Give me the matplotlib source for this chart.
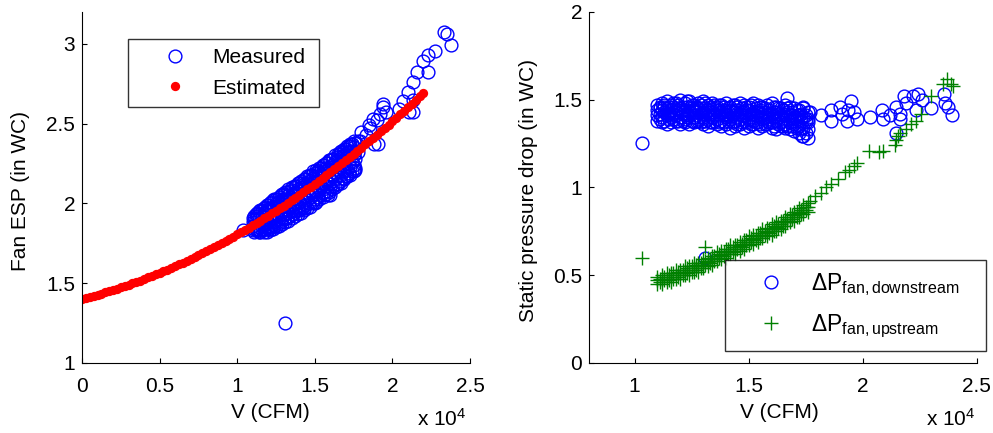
import numpy as np
import matplotlib
matplotlib.use('Agg')
from matplotlib import pyplot as plt

# --- data, V in units of 10^4 CFM ---
# estimated fan ESP curve (red dots)
est_v = [0.000, 0.025, 0.050, 0.075, 0.100, 0.125, 0.150, 0.175, 0.200, 0.225,
         0.250, 0.275, 0.300, 0.325, 0.350, 0.375, 0.400, 0.425, 0.450, 0.475,
         0.500, 0.525, 0.550, 0.575, 0.600, 0.625, 0.650, 0.675, 0.700, 0.725,
         0.750, 0.775, 0.800, 0.825, 0.850, 0.875, 0.900, 0.925, 0.950, 0.975,
         1.000, 1.025, 1.050, 1.075, 1.100, 1.125, 1.150, 1.175, 1.200, 1.225,
         1.250, 1.275, 1.300, 1.325, 1.350, 1.375, 1.400, 1.425, 1.450, 1.475,
         1.500, 1.525, 1.550, 1.575, 1.600, 1.625, 1.650, 1.675, 1.700, 1.725,
         1.750, 1.775, 1.800, 1.825, 1.850, 1.875, 1.900, 1.925, 1.950, 1.975,
         2.000, 2.025, 2.050, 2.075, 2.100, 2.125, 2.150, 2.175, 2.200]
est_esp = [1.400, 1.406, 1.413, 1.420, 1.427, 1.434, 1.441, 1.449, 1.457, 1.465,
           1.473, 1.481, 1.489, 1.498, 1.507, 1.516, 1.525, 1.535, 1.545, 1.554,
           1.564, 1.575, 1.585, 1.596, 1.606, 1.617, 1.629, 1.640, 1.651, 1.663,
           1.675, 1.687, 1.700, 1.712, 1.725, 1.738, 1.751, 1.764, 1.778, 1.791,
           1.805, 1.819, 1.833, 1.848, 1.862, 1.877, 1.892, 1.907, 1.923, 1.938,
           1.954, 1.970, 1.986, 2.002, 2.019, 2.036, 2.052, 2.070, 2.087, 2.104,
           2.122, 2.140, 2.158, 2.176, 2.194, 2.213, 2.232, 2.251, 2.270, 2.289,
           2.309, 2.329, 2.349, 2.369, 2.389, 2.410, 2.430, 2.451, 2.472, 2.494,
           2.515, 2.537, 2.559, 2.581, 2.603, 2.625, 2.648, 2.671, 2.694]

# dense cluster of measurements, two interleaved sets of V positions
cluster_v = [1.10, 1.12, 1.14, 1.16, 1.18, 1.20, 1.22, 1.24, 1.26, 1.28,
             1.30, 1.32, 1.34, 1.36, 1.38, 1.40, 1.42, 1.44, 1.46, 1.48,
             1.50, 1.52, 1.54, 1.56, 1.58, 1.60, 1.62, 1.64, 1.66, 1.68,
             1.70, 1.72, 1.74, 1.76]
cluster_v2 = [1.11, 1.13, 1.15, 1.17, 1.19, 1.21, 1.23, 1.25, 1.27, 1.29,
              1.31, 1.33, 1.35, 1.37, 1.39, 1.41, 1.43, 1.45, 1.47, 1.49,
              1.51, 1.53, 1.55, 1.57, 1.59, 1.61, 1.63, 1.65, 1.67, 1.69,
              1.71, 1.73, 1.75]

# measured fan ESP - dense part
esp_a = [1.91, 1.93, 1.95, 1.96, 1.98, 1.99, 2.01, 2.03, 2.03, 2.05,
         2.06, 2.07, 2.08, 2.10, 2.11, 2.13, 2.13, 2.15, 2.17, 2.18,
         2.19, 2.20, 2.22, 2.24, 2.25, 2.27, 2.28, 2.29, 2.31, 2.32,
         2.34, 2.36, 2.37, 2.38]
esp_b = [1.88, 1.90, 1.91, 1.92, 1.94, 1.95, 1.96, 1.97, 1.99, 2.00,
         2.01, 2.02, 2.04, 2.05, 2.06, 2.08, 2.09, 2.10, 2.12, 2.13,
         2.14, 2.16, 2.17, 2.19, 2.20, 2.21, 2.23, 2.24, 2.26, 2.27,
         2.29, 2.30, 2.32, 2.33]
esp_c = [1.83, 1.84, 1.85, 1.86, 1.87, 1.88, 1.90, 1.91, 1.92, 1.93,
         1.95, 1.96, 1.97, 1.98, 2.00, 2.01, 2.03, 2.04, 2.05, 2.07,
         2.08, 2.10, 2.11, 2.12, 2.14, 2.15, 2.17, 2.18, 2.20, 2.21,
         2.23, 2.25, 2.26, 2.28]
esp_d = [1.86, 1.84, 1.82, 1.83, 1.84, 1.84, 1.85, 1.86, 1.87, 1.88,
         1.90, 1.91, 1.92, 1.93, 1.95, 1.96, 1.97, 1.99, 2.00, 2.01,
         2.03, 2.04, 2.05, 2.07, 2.08, 2.10, 2.11, 2.12, 2.14, 2.16,
         2.17, 2.19, 2.20, 2.22]
esp_e = [1.90, 1.92, 1.93, 1.94, 1.96, 1.97, 1.98, 2.00, 2.01, 2.02,
         2.03, 2.05, 2.06, 2.07, 2.09, 2.10, 2.12, 2.13, 2.14, 2.16,
         2.17, 2.19, 2.20, 2.22, 2.23, 2.24, 2.26, 2.27, 2.29, 2.30,
         2.32, 2.33, 2.35]
esp_f = [1.82, 1.83, 1.83, 1.84, 1.85, 1.86, 1.88, 1.89, 1.90, 1.91,
         1.93, 1.94, 1.95, 1.96, 1.98, 1.99, 2.01, 2.02, 2.04, 2.05,
         2.06, 2.08, 2.09, 2.11, 2.12, 2.14, 2.15, 2.17, 2.18, 2.20,
         2.21, 2.23, 2.24]
esp_g = [1.84, 1.83, 1.82, 1.82, 1.82, 1.83, 1.84, 1.85, 1.86, 1.87,
         1.88, 1.89, 1.91, 1.92, 1.93, 1.94, 1.96, 1.97, 1.98, 2.00,
         2.01, 2.03, 2.04, 2.06, 2.07, 2.09, 2.10, 2.12, 2.13, 2.15,
         2.17, 2.18, 2.20]
esp_h = [1.92, 1.94, 1.96, 1.97, 1.99, 2.00, 2.02, 2.03, 2.04, 2.06,
         2.07, 2.09, 2.10, 2.11, 2.13, 2.14, 2.15, 2.17, 2.18, 2.20,
         2.21, 2.22, 2.24, 2.25, 2.27, 2.28, 2.30, 2.31, 2.33, 2.34,
         2.36, 2.37, 2.39]
# measured fan ESP - scattered points
esp_sparse_v = [1.04, 1.31, 1.43, 1.50, 1.585, 1.60, 1.66, 1.71, 1.73, 1.74,
                1.75, 1.76, 1.78, 1.78, 1.79, 1.80, 1.83, 1.85, 1.855, 1.875,
                1.88, 1.90, 1.91, 1.92, 1.94, 1.94, 1.96, 2.04, 2.07, 2.10,
                2.11, 2.13, 2.135, 2.135, 2.16, 2.20, 2.23, 2.23, 2.275, 2.33,
                2.35, 2.375]
esp_sparse = [1.83, 1.25, 1.97, 2.00, 2.05, 2.05, 2.32, 2.17, 2.36, 2.37,
              2.30, 2.21, 2.39, 2.32, 2.39, 2.45, 2.43, 2.49, 2.47, 2.53,
              2.37, 2.52, 2.37, 2.56, 2.62, 2.605, 2.57, 2.59, 2.64, 2.70,
              2.57, 2.65, 2.76, 2.575, 2.82, 2.89, 2.93, 2.82, 2.956, 3.075,
              3.06, 2.99]

# downstream static pressure drop (blue circles)
down_a = [1.47, 1.48, 1.49, 1.47, 1.48, 1.50, 1.48, 1.49, 1.47, 1.48,
          1.49, 1.47, 1.48, 1.46, 1.47, 1.48, 1.46, 1.47, 1.48, 1.47,
          1.46, 1.48, 1.47, 1.46, 1.47, 1.48, 1.46, 1.45, 1.47, 1.46,
          1.45, 1.44, 1.45, 1.43]
down_b = [1.44, 1.44, 1.45, 1.44, 1.43, 1.45, 1.44, 1.43, 1.44, 1.45,
          1.43, 1.44, 1.43, 1.44, 1.43, 1.42, 1.44, 1.43, 1.42, 1.43,
          1.44, 1.42, 1.43, 1.42, 1.41, 1.42, 1.43, 1.41, 1.42, 1.41,
          1.40, 1.41, 1.40, 1.39]
down_c = [1.41, 1.40, 1.41, 1.40, 1.41, 1.40, 1.39, 1.41, 1.40, 1.39,
          1.40, 1.39, 1.40, 1.39, 1.38, 1.40, 1.39, 1.38, 1.39, 1.38,
          1.39, 1.38, 1.37, 1.39, 1.38, 1.37, 1.38, 1.37, 1.36, 1.37,
          1.36, 1.35, 1.34, 1.33]
down_d = [1.38, 1.37, 1.36, 1.37, 1.38, 1.36, 1.37, 1.36, 1.37, 1.38,
          1.36, 1.35, 1.37, 1.36, 1.35, 1.36, 1.34, 1.35, 1.36, 1.34,
          1.35, 1.36, 1.34, 1.35, 1.36, 1.34, 1.33, 1.35, 1.34, 1.33,
          1.32, 1.31, 1.29, 1.28]
down_e = [1.46, 1.47, 1.46, 1.48, 1.47, 1.46, 1.49, 1.47, 1.46, 1.47,
          1.48, 1.46, 1.47, 1.47, 1.46, 1.45, 1.47, 1.46, 1.45, 1.46,
          1.47, 1.45, 1.46, 1.45, 1.44, 1.46, 1.45, 1.44, 1.45, 1.43,
          1.44, 1.42, 1.41]
down_f = [1.42, 1.43, 1.42, 1.42, 1.44, 1.42, 1.42, 1.44, 1.41, 1.42,
          1.42, 1.41, 1.42, 1.41, 1.42, 1.41, 1.41, 1.40, 1.41, 1.41,
          1.40, 1.41, 1.40, 1.40, 1.39, 1.40, 1.40, 1.39, 1.39, 1.38,
          1.39, 1.38, 1.37]
down_g = [1.39, 1.38, 1.39, 1.39, 1.38, 1.38, 1.40, 1.38, 1.38, 1.37,
          1.38, 1.37, 1.38, 1.37, 1.37, 1.38, 1.37, 1.36, 1.37, 1.37,
          1.36, 1.37, 1.36, 1.36, 1.37, 1.35, 1.36, 1.35, 1.35, 1.35,
          1.34, 1.33, 1.31]
down_h = [1.45, 1.46, 1.43, 1.46, 1.45, 1.44, 1.46, 1.45, 1.43, 1.45,
          1.45, 1.43, 1.45, 1.44, 1.44, 1.43, 1.43, 1.44, 1.43, 1.44,
          1.42, 1.43, 1.44, 1.43, 1.42, 1.43, 1.42, 1.42, 1.43, 1.41,
          1.41, 1.40, 1.39]
down_sparse_v = [1.034, 1.31, 1.67, 1.735, 1.74, 1.76, 1.77, 1.815, 1.86, 1.86,
                 1.90, 1.91, 1.93, 1.935, 1.95, 1.96, 1.975, 2.03, 2.085, 2.09,
                 2.12, 2.145, 2.145, 2.165, 2.165, 2.18, 2.19, 2.22, 2.235, 2.24,
                 2.26, 2.30, 2.355, 2.36, 2.375, 2.39]
down_sparse = [1.25, 0.60, 1.51, 1.29, 1.46, 1.37, 1.43, 1.41, 1.44, 1.38,
               1.46, 1.42, 1.38, 1.44, 1.49, 1.43, 1.39, 1.40, 1.44, 1.39,
               1.41, 1.46, 1.31, 1.39, 1.42, 1.52, 1.48, 1.52, 1.44, 1.53,
               1.50, 1.45, 1.53, 1.48, 1.46, 1.41]

# upstream static pressure drop (green plus)
up_mid = [0.47, 0.475, 0.48, 0.49, 0.50, 0.51, 0.52, 0.53, 0.54, 0.55,
          0.56, 0.575, 0.59, 0.60, 0.615, 0.63, 0.64, 0.65, 0.665, 0.68,
          0.69, 0.705, 0.72, 0.73, 0.745, 0.76, 0.775, 0.79, 0.805, 0.82,
          0.84, 0.855, 0.87, 0.89]
up_hi = [0.49, 0.50, 0.51, 0.51, 0.53, 0.53, 0.55, 0.55, 0.57, 0.57,
         0.59, 0.60, 0.61, 0.63, 0.64, 0.65, 0.67, 0.67, 0.69, 0.70,
         0.72, 0.73, 0.74, 0.76, 0.77, 0.79, 0.80, 0.81, 0.83, 0.85,
         0.86, 0.88, 0.90, 0.91]
up_lo = [0.45, 0.45, 0.46, 0.46, 0.48, 0.48, 0.50, 0.50, 0.52, 0.52,
         0.54, 0.55, 0.56, 0.58, 0.59, 0.60, 0.62, 0.62, 0.64, 0.65,
         0.67, 0.68, 0.69, 0.71, 0.72, 0.73, 0.75, 0.76, 0.78, 0.80,
         0.81, 0.83, 0.85, 0.86]
up_hi2 = [0.48, 0.49, 0.50, 0.51, 0.52, 0.53, 0.54, 0.55, 0.56, 0.57,
          0.58, 0.59, 0.61, 0.62, 0.63, 0.65, 0.66, 0.67, 0.68, 0.70,
          0.71, 0.72, 0.74, 0.75, 0.76, 0.78, 0.79, 0.81, 0.82, 0.84,
          0.86, 0.87, 0.89]
up_lo2 = [0.46, 0.47, 0.47, 0.48, 0.49, 0.50, 0.51, 0.52, 0.53, 0.54,
          0.56, 0.57, 0.58, 0.60, 0.61, 0.62, 0.63, 0.65, 0.66, 0.67,
          0.69, 0.70, 0.71, 0.73, 0.74, 0.75, 0.77, 0.78, 0.80, 0.82,
          0.83, 0.85, 0.87]
up_sparse_v = [1.034, 1.31, 1.77, 1.79, 1.815, 1.84, 1.86, 1.89, 1.92, 1.94,
               1.96, 1.975, 2.025, 2.07, 2.09, 2.14, 2.145, 2.155, 2.165, 2.19,
               2.21, 2.235, 2.255, 2.30, 2.35, 2.37, 2.385, 2.395]
up_sparse = [0.595, 0.66, 0.925, 0.95, 0.97, 1.00, 1.02, 1.05, 1.09, 1.10,
             1.12, 1.14, 1.21, 1.20, 1.21, 1.24, 1.27, 1.29, 1.31, 1.33,
             1.36, 1.38, 1.42, 1.52, 1.59, 1.62, 1.59, 1.58]

left_xticks = [0, 0.5, 1, 1.5, 2, 2.5]
left_xlabels = ['0', '0.5', '1', '1.5', '2', '2.5']
left_yticks = [1, 1.5, 2, 2.5, 3]
left_ylabels = ['1', '1.5', '2', '2.5', '3']
right_xticks = [1, 1.5, 2, 2.5]
right_xlabels = ['1', '1.5', '2', '2.5']
right_yticks = [0, 0.5, 1, 1.5, 2]
right_ylabels = ['0', '0.5', '1', '1.5', '2']

plt.rcParams['font.family'] = 'Liberation Sans'
plt.rcParams['font.size'] = 15
plt.rcParams['mathtext.fontset'] = 'custom'
plt.rcParams['mathtext.rm'] = 'Liberation Sans'
plt.rcParams['mathtext.it'] = 'Liberation Sans:italic'

fig = plt.figure(figsize=(9.93, 4.33), dpi=100)
ax1 = fig.add_axes([0.0826, 0.162, 0.3907, 0.8106])
ax2 = fig.add_axes([0.5931, 0.162, 0.3907, 0.8106])


def matlab_look(ax):
    # box off, ticks pointing inward like the original
    ax.spines['top'].set_visible(False)
    ax.spines['right'].set_visible(False)
    for s in ['left', 'bottom']:
        ax.spines[s].set_linewidth(0.8)
    ax.tick_params(direction='in', length=3.5, width=0.8, colors='k')
    ax.tick_params(axis='x', pad=10)
    ax.tick_params(axis='y', pad=5)


# left panel: fan ESP
meas_v = np.concatenate([cluster_v] * 4 + [cluster_v2] * 4 + [esp_sparse_v])
meas_esp = np.concatenate([esp_a, esp_b, esp_c, esp_d, esp_e, esp_f, esp_g, esp_h, esp_sparse])
ax1.plot(meas_v, meas_esp, 'o', mfc='none', mec='b', ms=9.2, mew=1.0, label='Measured')
ax1.plot(est_v, est_esp, 'o', color='r', ms=6.7, mew=0, label='Estimated')
ax1.set_xlim(0, 2.5)
ax1.set_ylim(1, 3.2)
ax1.set_xticks(left_xticks)
ax1.set_xticklabels(left_xlabels)
ax1.set_yticks(left_yticks)
ax1.set_yticklabels(left_ylabels)
matlab_look(ax1)
ax1.set_xlabel('V (CFM)')
ax1.xaxis.set_label_coords(0.485, -0.115)
ax1.set_ylabel('Fan ESP (in WC)')
ax1.yaxis.set_label_coords(-0.135, 0.49)
ax1.text(0.992, -0.178, r'x 10$^4$', transform=ax1.transAxes, ha='right', va='baseline')
leg1 = ax1.legend(loc='upper left', bbox_to_anchor=(0.119, 0.729, 0.492, 0.194),
                  mode='expand', borderaxespad=0, borderpad=0.45, handlelength=3.55,
                  handletextpad=0.02, labelspacing=0.55, fancybox=False, edgecolor='k')
leg1.get_frame().set_linewidth(1.0)

# right panel: static pressure drops
dn_v = np.concatenate([cluster_v] * 4 + [cluster_v2] * 4 + [down_sparse_v])
dn_p = np.concatenate([down_a, down_b, down_c, down_d, down_e, down_f, down_g, down_h, down_sparse])
upv = np.concatenate([cluster_v] * 3 + [cluster_v2] * 2 + [up_sparse_v])
upp = np.concatenate([up_mid, up_hi, up_lo, up_hi2, up_lo2, up_sparse])
ax2.plot(dn_v, dn_p, 'o', mfc='none', mec='b', ms=9.2, mew=1.0,
         label=r'$\Delta\mathrm{P}_{\mathrm{fan,downstream}}$')
ax2.plot(upv, upp, '+', color='#008000', ms=9.5, mew=1.0,
         label=r'$\Delta\mathrm{P}_{\mathrm{fan,upstream}}$')
ax2.set_xlim(0.8, 2.5)
ax2.set_ylim(0, 2)
ax2.set_xticks(right_xticks)
ax2.set_xticklabels(right_xlabels)
ax2.set_yticks(right_yticks)
ax2.set_yticklabels(right_ylabels)
matlab_look(ax2)
ax2.set_xlabel('V (CFM)')
ax2.xaxis.set_label_coords(0.49, -0.115)
ax2.set_ylabel('Static pressure drop (in WC)')
ax2.yaxis.set_label_coords(-0.131, 0.49)
ax2.text(0.995, -0.178, r'x 10$^4$', transform=ax2.transAxes, ha='right', va='baseline')
leg2 = ax2.legend(loc='upper left', bbox_to_anchor=(0.3505, 0.037, 0.673, 0.256),
                  mode='expand', borderaxespad=0, borderpad=0.5, handlelength=3.0,
                  handletextpad=0.27, labelspacing=0.62, fancybox=False, edgecolor='k',
                  fontsize=16.5)
leg2.get_frame().set_linewidth(1.0)

fig.savefig('out.png', dpi=100)
